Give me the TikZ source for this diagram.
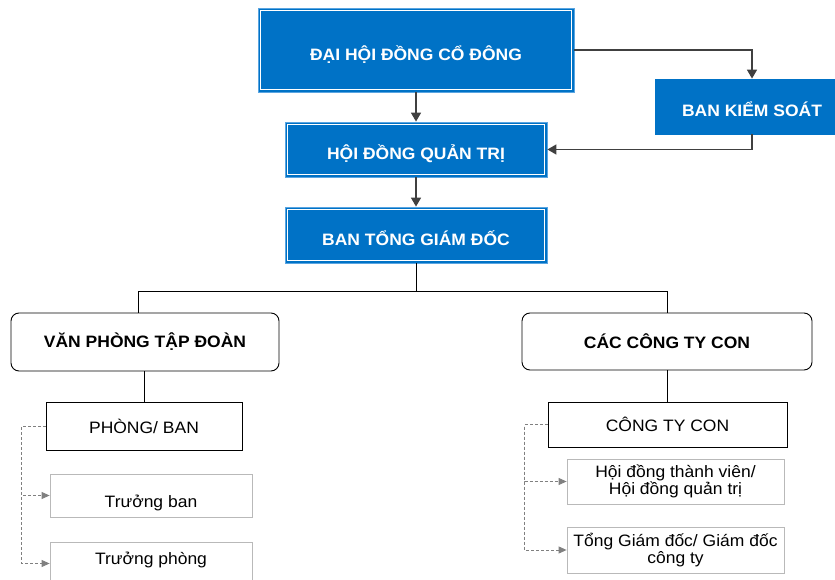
\documentclass[tikz,border=0pt]{standalone}
\usepackage{fontspec}
\setmainfont[FakeStretch=1.06]{Liberation Sans}
\usetikzlibrary{arrows.meta}
\definecolor{orgblue}{RGB}{0,114,198}
\definecolor{edgeblue}{RGB}{90,165,225}
\definecolor{lineg}{RGB}{64,64,64}
\definecolor{dashg}{RGB}{128,128,128}
\definecolor{boxg}{RGB}{185,185,185}
\begin{document}
\begin{tikzpicture}[x=1pt,y=-1pt,
  txt/.style={align=center, inner sep=0pt, font=\fontsize{16.5}{15.5}\selectfont},
  bluebox/.style={txt, fill=orgblue, draw=edgeblue, line width=0.8pt, text=white,
    font=\fontsize{16.5}{15.5}\selectfont\bfseries, text height=20.8pt, text depth=0pt},
  roundbox/.style={txt, draw=black, line width=0.9pt, rounded corners=8pt,
    font=\fontsize{16.5}{15.5}\selectfont\bfseries},
  plainbox/.style={txt, draw=black, line width=0.9pt},
  greybox/.style={txt, draw=boxg, line width=0.8pt, font=\fontsize{16.5}{17}\selectfont},
  conn/.style={draw=lineg, line width=1.5pt, -{Triangle[length=9pt,width=10pt]}},
  link/.style={draw=black, line width=0.9pt},
  dconn/.style={draw=dashg, line width=0.9pt, densely dashed, -{Triangle[length=8pt,width=7pt]}}
]
\useasboundingbox (0,0) rectangle (835,580);

% blue boxes
\node[bluebox, minimum width=316pt, minimum height=84pt, text height=21.8pt] (dh) at (416,50) {ĐẠI HỘI ĐỒNG CỔ ĐÔNG};
\node[bluebox, minimum width=262pt, minimum height=55pt] (hd) at (416,149.5) {HỘI ĐỒNG QUẢN TRỊ};
\node[bluebox, minimum width=262pt, minimum height=56pt] (bt) at (416,235) {BAN TỔNG GIÁM ĐỐC};
\node[bluebox, draw=orgblue, minimum width=194pt, minimum height=55pt] (bks) at (752,106.5) {BAN KIỂM SOÁT};
\foreach \n in {dh,hd,bt}
  \draw[white, line width=0.9pt] ([xshift=2.5pt,yshift=-2.5pt]\n.north west) rectangle ([xshift=-2.5pt,yshift=2.5pt]\n.south east);

% second level
\node[roundbox, minimum width=268pt, minimum height=58pt] (vp) at (145,342) {VĂN PHÒNG TẬP ĐOÀN};
\node[roundbox, minimum width=290pt, minimum height=57pt] (cc) at (667,341.5) {CÁC CÔNG TY CON};

% third level
\node[plainbox, minimum width=196pt, minimum height=48pt] (pb) at (144,426) {PHÒNG/ BAN};
\node[greybox, minimum width=202pt, minimum height=43pt, text height=24.8pt, text depth=0pt] (tb) at (151,495.5) {Trưởng ban};
\node[greybox, minimum width=202pt, minimum height=43pt, text height=2.8pt, text depth=0pt] (tp) at (151,563.5) {Trưởng phòng};

\node[plainbox, minimum width=239pt, minimum height=45pt] (ctc) at (667.5,424.5) {CÔNG TY CON};
\node[greybox, minimum width=217pt, minimum height=45pt] (hdtv) at (675.5,481.5) {Hội đồng thành viên/\\Hội đồng quản trị};
\node[greybox, minimum width=217pt, minimum height=46pt] (tgd) at (675.5,550) {Tổng Giám đốc/ Giám đốc\\công ty};

% connectors
\draw[conn] (dh.south) -- (hd.north);
\draw[conn] (dh.east) -| (bks.north);
\draw[conn] (bks.south) |- (hd.east);
\draw[conn] (hd.south) -- (bt.north);
\draw[link] (bt.south) -- ++(0,28) -| ([xshift=-7pt]vp.north);
\draw[link] (bt.south) -- ++(0,28) -| (cc.north);
\draw[link] (pb.north |- vp.south) -- (pb.north);
\draw[link] (ctc.north |- cc.south) -- (ctc.north);

\draw[dconn] (pb.west) -- ++(-24,0) |- (tb.west);
\draw[dconn] (pb.west) -- ++(-24,0) |- (tp.west);
\draw[dconn] (ctc.west) -- ++(-23,0) |- (hdtv.west);
\draw[dconn] (ctc.west) -- ++(-23,0) |- (tgd.west);
\end{tikzpicture}
\end{document}
